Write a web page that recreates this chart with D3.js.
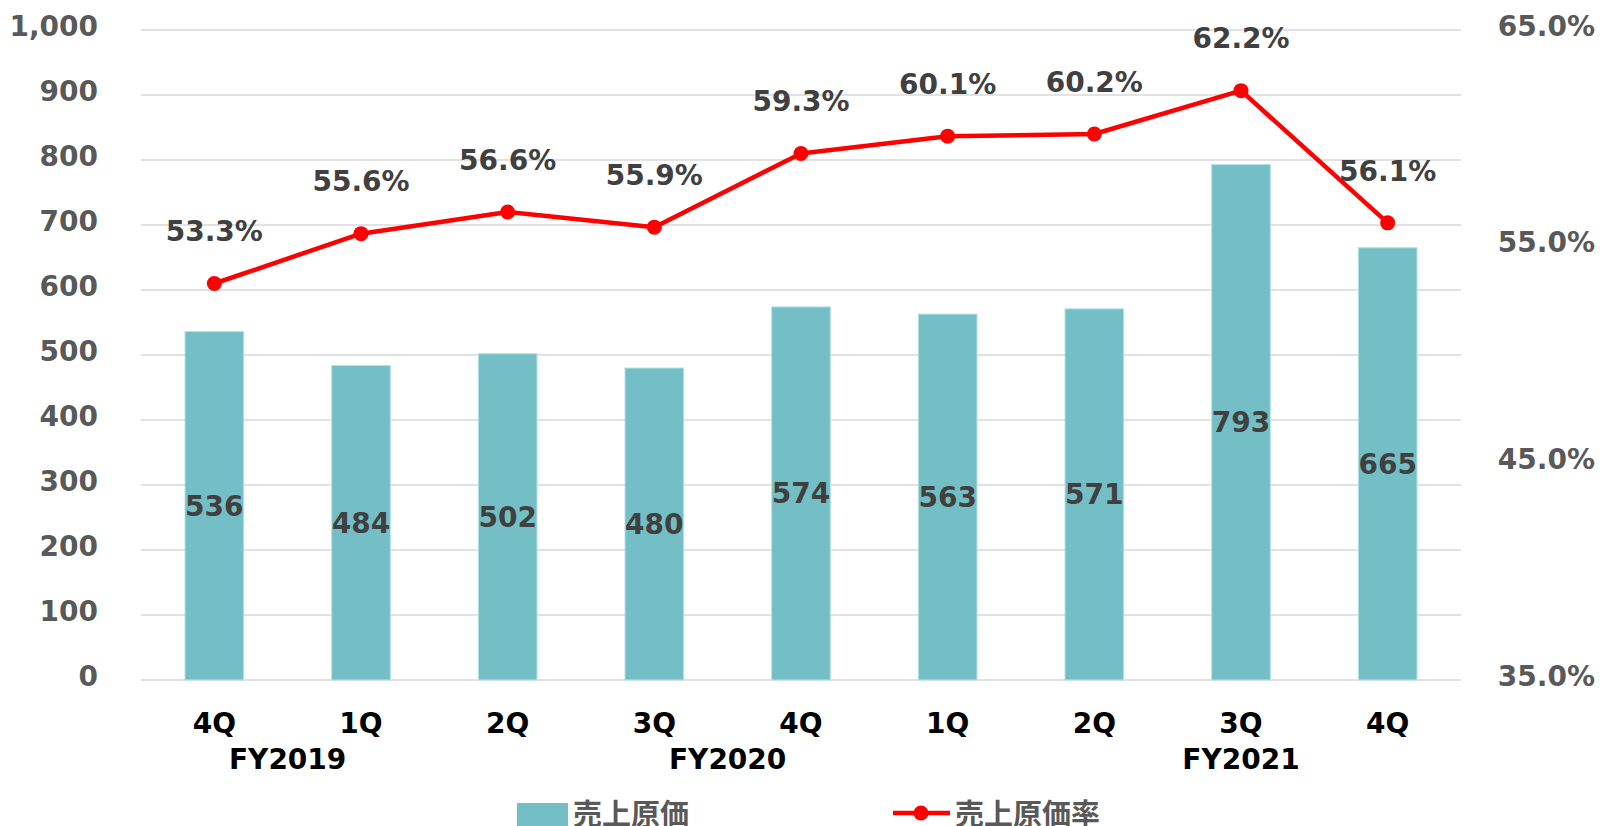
<!DOCTYPE html>
<html>
<head>
<meta charset="utf-8">
<script src="https://cdn.jsdelivr.net/npm/d3@7"></script>
<style>
  body { margin: 0; background: #fff; }
  svg { display: block; }
</style>
</head>
<body>
<div id="chart"></div>
<script>
// Data
const quarters = ["4Q", "1Q", "2Q", "3Q", "4Q", "1Q", "2Q", "3Q", "4Q"];
const fiscalYears = ["FY2019", "FY2020", "FY2020", "FY2020", "FY2020", "FY2021", "FY2021", "FY2021", "FY2021"];
const costOfSales = [536, 484, 502, 480, 574, 563, 571, 793, 665];
const costRatio = [53.3, 55.6, 56.6, 55.9, 59.3, 60.1, 60.2, 62.2, 56.1];
const leftTicks = [0, 100, 200, 300, 400, 500, 600, 700, 800, 900, 1000];
const rightTicks = [35, 45, 55, 65];
// group labels: text and the index range they sit under
const groupLabels = [
  { text: "FY2019", from: 0, to: 1 },
  { text: "FY2020", from: 3, to: 4 },
  { text: "FY2021", from: 7, to: 7 }
];
const seriesNames = ["売上原価", "売上原価率"];

// Dimensions
const width = 1600, height = 826;
const margin = { top: 30, right: 139, bottom: 146, left: 141 };

const barColor = "#74bfc5",
      lineColor = "#ff0000",
      fontFamily = "'DejaVu Sans', Verdana, sans-serif";

const keys = quarters.map(function(q, i) { return i; });

const x = d3.scaleBand()
    .domain(keys)
    .range([margin.left, width - margin.right])
    .paddingInner(0.6)
    .paddingOuter(0.3);

const yLeft = d3.scaleLinear()
    .domain([0, 1000])
    .range([height - margin.bottom, margin.top]);

const yRight = d3.scaleLinear()
    .domain([35, 65])
    .range([height - margin.bottom, margin.top]);

const svg = d3.select("#chart").append("svg")
    .attr("width", width)
    .attr("height", height);

// Gridlines
svg.append("g")
    .selectAll("line")
    .data(leftTicks)
    .join("line")
    .attr("x1", margin.left)
    .attr("x2", width - margin.right)
    .attr("y1", function(d) { return yLeft(d); })
    .attr("y2", function(d) { return yLeft(d); })
    .attr("stroke", "#d9d9d9")
    .attr("stroke-width", 1.5);

// Left axis labels
svg.append("g")
    .attr("font-family", fontFamily)
    .attr("font-weight", "bold")
    .attr("font-size", 28)
    .attr("fill", "#595959")
    .attr("text-anchor", "end")
    .selectAll("text")
    .data(leftTicks)
    .join("text")
    .attr("x", 98)
    .attr("y", function(d) { return yLeft(d) - 4; })
    .attr("dy", "0.35em")
    .text(d3.format(","));

// Right axis labels
svg.append("g")
    .attr("font-family", fontFamily)
    .attr("font-weight", "bold")
    .attr("font-size", 28)
    .attr("fill", "#595959")
    .attr("text-anchor", "end")
    .selectAll("text")
    .data(rightTicks)
    .join("text")
    .attr("x", 1595)
    .attr("y", function(d) { return yRight(d) - 4; })
    .attr("dy", "0.35em")
    .text(function(d) { return d.toFixed(1) + "%"; });

// Bars
svg.append("g")
    .selectAll("rect")
    .data(costOfSales)
    .join("rect")
    .attr("x", function(d, i) { return x(i); })
    .attr("width", x.bandwidth())
    .attr("y", function(d) { return yLeft(d); })
    .attr("height", function(d) { return yLeft(0) - yLeft(d); })
    .attr("fill", barColor)
    .attr("stroke", "#b5e2e5")
    .attr("stroke-width", 1);

// Bar value labels, centred in the bar
svg.append("g")
    .attr("font-family", fontFamily)
    .attr("font-weight", "bold")
    .attr("font-size", 28)
    .attr("fill", "#404040")
    .attr("text-anchor", "middle")
    .selectAll("text")
    .data(costOfSales)
    .join("text")
    .attr("x", function(d, i) { return x(i) + x.bandwidth() / 2; })
    .attr("y", function(d) { return (yLeft(d) + yLeft(0)) / 2; })
    .attr("dy", "0.35em")
    .text(function(d) { return d; });

// Ratio line
const line = d3.line()
    .x(function(d, i) { return x(i) + x.bandwidth() / 2; })
    .y(function(d) { return yRight(d); });

svg.append("path")
    .datum(costRatio)
    .attr("fill", "none")
    .attr("stroke", lineColor)
    .attr("stroke-width", 4.5)
    .attr("stroke-linejoin", "round")
    .attr("d", line);

svg.append("g")
    .selectAll("circle")
    .data(costRatio)
    .join("circle")
    .attr("cx", function(d, i) { return x(i) + x.bandwidth() / 2; })
    .attr("cy", function(d) { return yRight(d); })
    .attr("r", 7.5)
    .attr("fill", lineColor);

// Ratio labels above the points
svg.append("g")
    .attr("font-family", fontFamily)
    .attr("font-weight", "bold")
    .attr("font-size", 28)
    .attr("fill", "#404040")
    .attr("text-anchor", "middle")
    .selectAll("text")
    .data(costRatio)
    .join("text")
    .attr("x", function(d, i) { return x(i) + x.bandwidth() / 2; })
    .attr("y", function(d) { return yRight(d) - 52; })
    .attr("dy", "0.35em")
    .text(function(d) { return d.toFixed(1) + "%"; });

// Category labels
svg.append("g")
    .attr("font-family", fontFamily)
    .attr("font-weight", "bold")
    .attr("font-size", 28)
    .attr("fill", "#000")
    .attr("text-anchor", "middle")
    .selectAll("text")
    .data(quarters)
    .join("text")
    .attr("x", function(d, i) { return x(i) + x.bandwidth() / 2; })
    .attr("y", 723)
    .attr("dy", "0.35em")
    .text(function(d) { return d; });

svg.append("g")
    .attr("font-family", fontFamily)
    .attr("font-weight", "bold")
    .attr("font-size", 28)
    .attr("fill", "#000")
    .attr("text-anchor", "middle")
    .selectAll("text")
    .data(groupLabels)
    .join("text")
    .attr("x", function(d) {
        return (x(d.from) + x(d.to)) / 2 + x.bandwidth() / 2;
    })
    .attr("y", 759)
    .attr("dy", "0.35em")
    .text(function(d) { return d.text; });

// Legend
const legend = svg.append("g")
    .attr("font-family", "'Noto Sans CJK JP', sans-serif")
    .attr("font-weight", "bold")
    .attr("font-size", 29)
    .attr("fill", "#595959");

legend.append("rect")
    .attr("x", 517)
    .attr("y", 803)
    .attr("width", 51)
    .attr("height", 26)
    .attr("fill", barColor);

legend.append("text")
    .attr("x", 573)
    .attr("y", 815)
    .attr("dy", "0.35em")
    .text(seriesNames[0]);

legend.append("line")
    .attr("x1", 893)
    .attr("x2", 950)
    .attr("y1", 813)
    .attr("y2", 813)
    .attr("stroke", lineColor)
    .attr("stroke-width", 4.5);

legend.append("circle")
    .attr("cx", 921)
    .attr("cy", 813)
    .attr("r", 7.5)
    .attr("fill", lineColor);

legend.append("text")
    .attr("x", 955)
    .attr("y", 815)
    .attr("dy", "0.35em")
    .text(seriesNames[1]);
</script>
</body>
</html>
